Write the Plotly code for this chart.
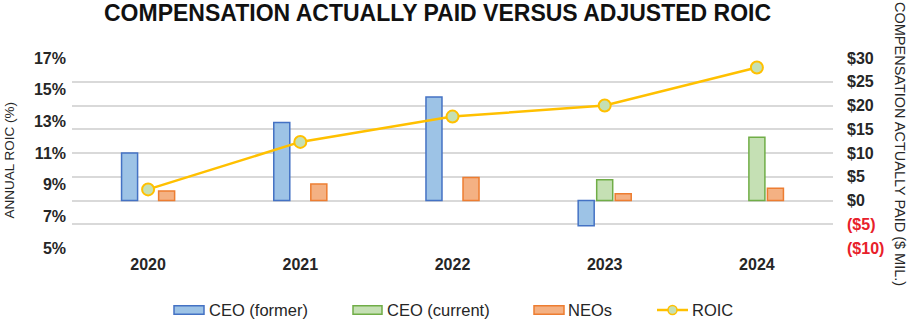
import plotly.graph_objects as go

# ---- data ----
years = ["2020", "2021", "2022", "2023", "2024"]
ceo_former = [10.0, 16.4, 21.8, -5.3, None]      # $ millions
ceo_current = [None, None, None, 4.35, 13.3]     # $ millions
neos = [2.0, 3.45, 4.85, 1.4, 2.6]               # $ millions
roic = [8.7, 11.7, 13.3, 14.0, 16.4]             # %

roic_ticks = [5, 7, 9, 11, 13, 15, 17]
roic_ticktext = ["5%", "7%", "9%", "11%", "13%", "15%", "17%"]
cap_ticks = [-10, -5, 0, 5, 10, 15, 20, 25, 30]
cap_ticktext = ["($10)", "($5)", "$0", "$5", "$10", "$15", "$20", "$25", "$30"]

# ---- styling ----
W, H = 907, 321
ML, MR, MT, MB = 72, 74, 58, 73
PW, PH = W - ML - MR, H - MT - MB
FONT = "Liberation Sans, Arial, sans-serif"
TXT = "#262626"
NEG = "#e8202a"

BLUE_F, BLUE_L = "#9dc3e6", "#4472c4"
GREEN_F, GREEN_L = "#c5e0b4", "#70ad47"
ORANGE_F, ORANGE_L = "#f4b183", "#ed7d31"
GOLD = "#ffc000"


def px_x(p):
    return (p - ML) / PW


def px_y(p):
    return (H - MB - p) / PH


def cap_label(t):
    return f'<span style="color:{NEG}">{t}</span>' if t.startswith("(") else t


fig = go.Figure()

bar_specs = [
    ("CEO (former)", ceo_former, BLUE_F, BLUE_L),
    ("CEO (current)", ceo_current, GREEN_F, GREEN_L),
    ("NEOs", neos, ORANGE_F, ORANGE_L),
]
for name, vals, fill, line in bar_specs:
    fig.add_trace(go.Bar(
        x=years, y=vals, name=name, yaxis="y",
        marker=dict(color=fill, line=dict(color=line, width=1.5)),
        showlegend=False,
    ))

fig.add_trace(go.Scatter(
    x=years, y=roic, name="ROIC", yaxis="y2", mode="lines+markers",
    line=dict(color=GOLD, width=2.5),
    marker=dict(size=12, color=GREEN_F, line=dict(color=GOLD, width=2)),
    showlegend=False, cliponaxis=False,
))

fig.update_layout(
    width=W, height=H,
    margin=dict(l=ML, r=MR, t=MT, b=MB, pad=0),
    paper_bgcolor="white", plot_bgcolor="white",
    font=dict(family=FONT, color=TXT),
    barmode="group", bargap=0.635, bargroupgap=0.135,
    xaxis=dict(
        type="category", showgrid=False, zeroline=False, showline=False,
        ticks="", ticklabelstandoff=5,
        tickfont=dict(size=16, family=FONT, color=TXT, weight="bold"),
    ),
    yaxis=dict(
        side="right", range=[-10, 30], tickvals=cap_ticks,
        ticktext=[cap_label(t) for t in cap_ticktext],
        showgrid=True, gridcolor="#d9d9d9", gridwidth=1.5,
        zeroline=False, showline=False, ticks="", ticklabelstandoff=13,
        tickfont=dict(size=16, family=FONT, color=TXT, weight="bold"),
    ),
    yaxis2=dict(
        overlaying="y", side="left", range=[5, 17],
        tickvals=roic_ticks, ticktext=roic_ticktext,
        showgrid=False, zeroline=False, showline=False, ticks="",
        ticklabelstandoff=5,
        tickfont=dict(size=16, family=FONT, color=TXT, weight="bold"),
    ),
    showlegend=False,
)

annotations = [
    dict(text="<b>COMPENSATION ACTUALLY PAID VERSUS ADJUSTED ROIC</b>",
         xref="paper", yref="paper", x=px_x(437), y=px_y(12.5),
         xanchor="center", yanchor="middle", showarrow=False,
         font=dict(size=23, family=FONT, color="#111111")),
    dict(text="ANNUAL ROIC (%)", xref="paper", yref="paper",
         x=px_x(9), y=px_y(159.5), textangle=-90,
         xanchor="center", yanchor="middle", showarrow=False,
         font=dict(size=13.5, family=FONT, color=TXT)),
    dict(text="COMPENSATION ACTUALLY PAID ($ MIL.)", xref="paper", yref="paper",
         x=px_x(900), y=px_y(144), textangle=90,
         xanchor="center", yanchor="middle", showarrow=False,
         font=dict(size=14.5, family=FONT, color=TXT)),
]

# ---- legend ----
LEG_Y = 310
shapes = []
legend_items = [
    ("CEO (former)", "rect", BLUE_F, BLUE_L, 174, 204, 207),
    ("CEO (current)", "rect", GREEN_F, GREEN_L, 353, 382, 385),
    ("NEOs", "rect", ORANGE_F, ORANGE_L, 534, 564, 566),
    ("ROIC", "line", GREEN_F, GOLD, 657, 688, 690),
]
for label, kind, fill, line, x0, x1, tx in legend_items:
    if kind == "rect":
        shapes.append(dict(type="rect", xref="paper", yref="paper",
                           x0=px_x(x0), x1=px_x(x1),
                           y0=px_y(LEG_Y + 4.3), y1=px_y(LEG_Y - 4.3),
                           fillcolor=fill, line=dict(color=line, width=1.5)))
    else:
        shapes.append(dict(type="line", xref="paper", yref="paper",
                           x0=px_x(x0), x1=px_x(x1),
                           y0=px_y(LEG_Y), y1=px_y(LEG_Y),
                           line=dict(color=line, width=2.5)))
        cx = (x0 + x1) / 2
        shapes.append(dict(type="circle", xref="paper", yref="paper",
                           x0=px_x(cx - 4.5), x1=px_x(cx + 4.5),
                           y0=px_y(LEG_Y + 4.5), y1=px_y(LEG_Y - 4.5),
                           fillcolor=fill, line=dict(color=line, width=1.5)))
    annotations.append(dict(text=label, xref="paper", yref="paper",
                            x=px_x(tx), y=px_y(LEG_Y),
                            xanchor="left", yanchor="middle", showarrow=False,
                            font=dict(size=16.5, family=FONT, color=TXT)))

fig.update_layout(annotations=annotations, shapes=shapes)

fig.write_html("out.html")
